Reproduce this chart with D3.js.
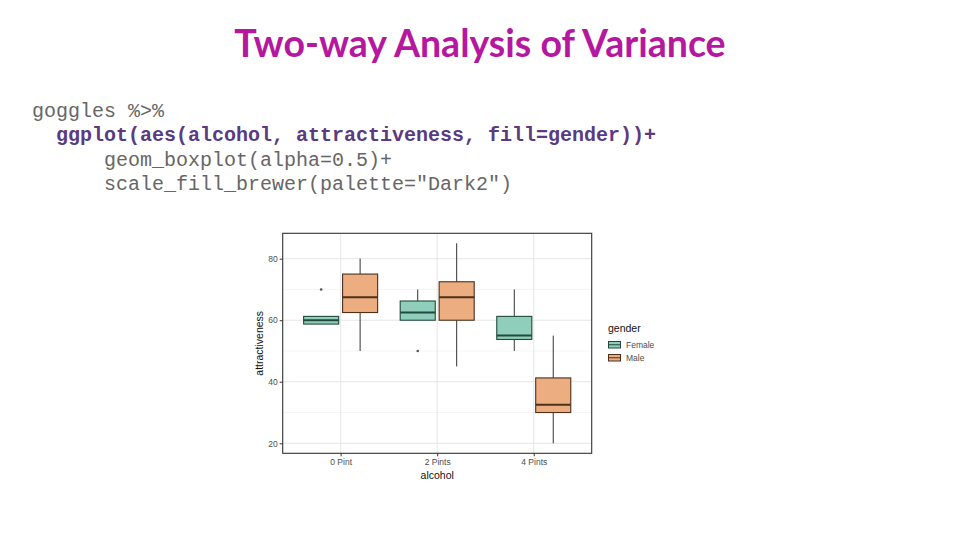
<!DOCTYPE html>
<html>
<head>
<meta charset="utf-8">
<script src="https://cdn.jsdelivr.net/npm/d3@7"></script>
<style>
  body { margin: 0; background: #fff; }
  svg { display: block; }
</style>
</head>
<body>
<div id="chart-area"></div>
<script>
// data
var groups = ["0 Pint", "2 Pints", "4 Pints"];
var genders = ["Female", "Male"];
// per box: [lower whisker, q1, median, q3, upper whisker]
var femaleStats = [[58.75, 58.75, 60, 61.25, 61.25], [60, 60, 62.5, 66.25, 70], [50, 53.75, 55, 61.25, 70]];
var maleStats = [[50, 62.5, 67.5, 75, 80], [45, 60, 67.5, 72.5, 85], [20, 30, 32.5, 41.25, 55]];
var femaleOutliers = [[70], [50], []];
var maleOutliers = [[], [], []];
var yTicks = [20, 40, 60, 80];
var yMinor = [30, 50, 70];
var codeLines = [
  "goggles %>%",
  "  ggplot(aes(alcohol, attractiveness, fill=gender))+",
  "      geom_boxplot(alpha=0.5)+",
  "      scale_fill_brewer(palette=\"Dark2\")"
];

var svg = d3.select("#chart-area")
  .append("svg")
    .attr("width", 960)
    .attr("height", 540);

// title
svg.append("text")
  .attr("x", 480)
  .attr("y", 57)
  .attr("text-anchor", "middle")
  .attr("font-family", "Lato, 'Open Sans', sans-serif")
  .attr("font-weight", "bold")
  .attr("font-size", "37.5px")
  .attr("fill", "#b5179e")
  .text("Two-way Analysis of Variance");

// code block
svg.selectAll(".code")
  .data(codeLines)
  .enter()
  .append("text")
    .attr("class", "code")
    .attr("x", 32)
    .attr("y", function(d, i) { return 117 + i * 24.4; })
    .attr("font-family", "'Liberation Mono', 'DejaVu Sans Mono', monospace")
    .attr("font-size", "20px")
    .attr("font-weight", function(d, i) { return i === 1 ? "bold" : "normal"; })
    .attr("fill", function(d, i) { return i === 1 ? "#5b3a82" : "#666666"; })
    .attr("xml:space", "preserve")
    .style("white-space", "pre")
    .text(function(d) { return d; });

// plot panel
var panel = { left: 282.7, right: 591.7, top: 233.3, bottom: 453.3 };
var g = svg.append("g");

var y = d3.scaleLinear()
  .domain([16.75, 88.25])
  .range([panel.bottom, panel.top]);

var x = d3.scalePoint()
  .domain(groups)
  .range([panel.left, panel.right])
  .padding(0.6);

var x1 = d3.scaleBand()
  .domain(genders)
  .range([-37, 37])
  .paddingInner(0.1);

var fillColor = d3.scaleOrdinal()
  .domain(genders)
  .range(["#8fcebb", "#ecae80"]);
var strokeColor = d3.scaleOrdinal()
  .domain(genders)
  .range(["#22493d", "#4d2f1a"]);

// gridlines
g.selectAll(".minor")
  .data(yMinor)
  .enter()
  .append("line")
    .attr("x1", panel.left).attr("x2", panel.right)
    .attr("y1", function(d) { return y(d); })
    .attr("y2", function(d) { return y(d); })
    .attr("stroke", "#f0f0f0")
    .attr("stroke-width", 0.7);

g.selectAll(".major")
  .data(yTicks)
  .enter()
  .append("line")
    .attr("x1", panel.left).attr("x2", panel.right)
    .attr("y1", function(d) { return y(d); })
    .attr("y2", function(d) { return y(d); })
    .attr("stroke", "#e6e6e6")
    .attr("stroke-width", 1);

g.selectAll(".vgrid")
  .data(groups)
  .enter()
  .append("line")
    .attr("x1", function(d) { return x(d); })
    .attr("x2", function(d) { return x(d); })
    .attr("y1", panel.top).attr("y2", panel.bottom)
    .attr("stroke", "#e6e6e6")
    .attr("stroke-width", 1);

// boxes
var boxes = [];
groups.forEach(function(grp, i) {
  boxes.push({ group: grp, gender: "Female", s: femaleStats[i], out: femaleOutliers[i] });
  boxes.push({ group: grp, gender: "Male", s: maleStats[i], out: maleOutliers[i] });
});

var bw = x1.bandwidth();
var box = g.selectAll(".box")
  .data(boxes)
  .enter()
  .append("g")
    .attr("class", "box")
    .attr("transform", function(d) { return "translate(" + (x(d.group) + x1(d.gender)) + ",0)"; });

box.append("line")
  .attr("x1", bw / 2).attr("x2", bw / 2)
  .attr("y1", function(d) { return y(d.s[4]); })
  .attr("y2", function(d) { return y(d.s[3]); })
  .attr("stroke", "#333")
  .attr("stroke-width", 1);

box.append("line")
  .attr("x1", bw / 2).attr("x2", bw / 2)
  .attr("y1", function(d) { return y(d.s[1]); })
  .attr("y2", function(d) { return y(d.s[0]); })
  .attr("stroke", "#333")
  .attr("stroke-width", 1);

box.append("rect")
  .attr("x", 0)
  .attr("width", bw)
  .attr("y", function(d) { return y(d.s[3]); })
  .attr("height", function(d) { return y(d.s[1]) - y(d.s[3]); })
  .attr("fill", function(d) { return fillColor(d.gender); })
  .attr("stroke", function(d) { return strokeColor(d.gender); })
  .attr("stroke-width", 1.1);

box.append("line")
  .attr("x1", 0).attr("x2", bw)
  .attr("y1", function(d) { return y(d.s[2]); })
  .attr("y2", function(d) { return y(d.s[2]); })
  .attr("stroke", function(d) { return strokeColor(d.gender); })
  .attr("stroke-width", 2);

box.selectAll(".out")
  .data(function(d) { return d.out; })
  .enter()
  .append("circle")
    .attr("cx", bw / 2)
    .attr("cy", function(d) { return y(d); })
    .attr("r", 1.3)
    .attr("fill", "#555");

// panel border
g.append("rect")
  .attr("x", panel.left).attr("y", panel.top)
  .attr("width", panel.right - panel.left)
  .attr("height", panel.bottom - panel.top)
  .attr("fill", "none")
  .attr("stroke", "#333")
  .attr("stroke-width", 1.1);

// axes
var yAxis = g.append("g")
  .attr("transform", "translate(" + panel.left + ",0)")
  .call(d3.axisLeft(y).tickValues(yTicks).tickSize(3).tickPadding(2));
var xAxis = g.append("g")
  .attr("transform", "translate(0," + panel.bottom + ")")
  .call(d3.axisBottom(x).tickSize(3).tickPadding(3));

[yAxis, xAxis].forEach(function(a) {
  a.select(".domain").remove();
  a.selectAll(".tick line").attr("stroke", "#333");
  a.selectAll(".tick text")
    .attr("fill", "#4d4d4d")
    .attr("font-family", "'Liberation Sans', Arial, sans-serif")
    .attr("font-size", "8.5px");
});

g.append("text")
  .attr("x", (panel.left + panel.right) / 2)
  .attr("y", 479)
  .attr("text-anchor", "middle")
  .attr("font-family", "'Liberation Sans', Arial, sans-serif")
  .attr("font-size", "10.5px")
  .attr("fill", "#111")
  .text("alcohol");

g.append("text")
  .attr("transform", "translate(263," + ((panel.top + panel.bottom) / 2) + ") rotate(-90)")
  .attr("text-anchor", "middle")
  .attr("font-family", "'Liberation Sans', Arial, sans-serif")
  .attr("font-size", "10.5px")
  .attr("fill", "#111")
  .text("attractiveness");

// legend
var legend = svg.append("g").attr("transform", "translate(608,0)");
legend.append("text")
  .attr("x", 0).attr("y", 332)
  .attr("font-family", "'Liberation Sans', Arial, sans-serif")
  .attr("font-size", "10.5px")
  .attr("fill", "#111")
  .text("gender");

var key = legend.selectAll(".key")
  .data(genders)
  .enter()
  .append("g")
    .attr("class", "key")
    .attr("transform", function(d, i) { return "translate(0," + (341 + i * 13) + ")"; });

key.append("rect")
  .attr("x", 0.5).attr("y", 0.5)
  .attr("width", 12).attr("height", 6.5)
  .attr("fill", function(d) { return fillColor(d); })
  .attr("stroke", function(d) { return strokeColor(d); })
  .attr("stroke-width", 1);
key.append("line")
  .attr("x1", 0.5).attr("x2", 12.5)
  .attr("y1", 3.75).attr("y2", 3.75)
  .attr("stroke", function(d) { return strokeColor(d); })
  .attr("stroke-width", 1);
key.append("text")
  .attr("x", 18).attr("y", 7)
  .attr("font-family", "'Liberation Sans', Arial, sans-serif")
  .attr("font-size", "8.5px")
  .attr("fill", "#4d4d4d")
  .text(function(d) { return d; });
</script>
</body>
</html>
